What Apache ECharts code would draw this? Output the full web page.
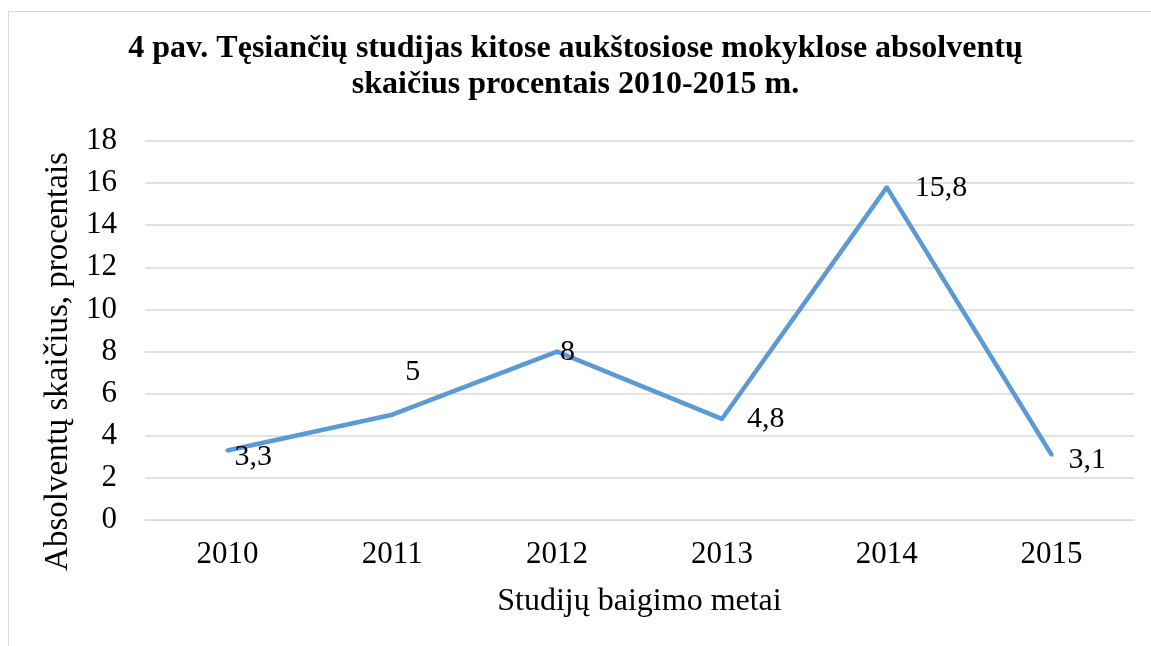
<!DOCTYPE html>
<html>
<head>
<meta charset="utf-8">
<script src="https://cdn.jsdelivr.net/npm/echarts@6/dist/echarts.min.js"></script>
<style>
  html, body { margin: 0; padding: 0; background: #fff; }
  #frame { position: absolute; left: 8px; top: 11px; width: 1160px; height: 660px; border: 1px solid #d9d9d9; box-sizing: border-box; }
  #myChart { position: absolute; left: 0; top: 0; width: 1151px; height: 646px; }
</style>
</head>
<body>
<div id="frame"></div>
<div id="myChart"></div>
<script>
var years = ['2010', '2011', '2012', '2013', '2014', '2015'];
var percents = [3.3, 5, 8, 4.8, 15.8, 3.1];
var yTicks = [0, 2, 4, 6, 8, 10, 12, 14, 16, 18];

window.onload = function () {
    var myChart = echarts.init(document.getElementById('myChart'));
    var font = '"Liberation Serif", "Times New Roman", serif';

    // label nudges so the numbers sit where the original put them
    var shift = [[0, 7], [6, -43], [-4, 1], [18, 0], [21, 1], [10, 5]];

    var option = {
        animation: false,
        title: {
            text: '4 pav. Tęsiančių studijas kitose aukštosiose mokyklose absolventų\nskaičius procentais 2010-2015 m.',
            left: 'center',
            top: 26,
            padding: [5, 0, 5, 14],
            textStyle: {
                fontFamily: font,
                fontWeight: 'bold',
                fontSize: 32,
                lineHeight: 36,
                color: '#000'
            }
        },
        grid: { left: 145, right: 17, top: 141, bottom: 126 },
        xAxis: {
            type: 'category',
            data: years,
            boundaryGap: true,
            name: 'Studijų baigimo metai',
            nameLocation: 'middle',
            nameGap: 66,
            nameTextStyle: { fontFamily: font, fontSize: 32, color: '#000' },
            axisLine: { show: true, lineStyle: { color: '#d9d9d9', width: 1 } },
            axisTick: { show: false },
            axisLabel: { fontFamily: font, fontSize: 31, color: '#000', margin: 19 }
        },
        yAxis: {
            type: 'value',
            min: yTicks[0],
            max: yTicks[yTicks.length - 1],
            interval: 2,
            name: 'Absolventų skaičius, procentais',
            nameLocation: 'middle',
            nameGap: 66,
            nameTextStyle: { fontFamily: font, fontSize: 33, color: '#000', padding: [0, 62, 0, 0] },
            axisLine: { show: false },
            axisTick: { show: false },
            axisLabel: { fontFamily: font, fontSize: 31, color: '#000', margin: 28 },
            splitLine: { lineStyle: { color: '#d9d9d9', width: 1.5 } }
        },
        series: [{
            type: 'line',
            data: percents.map(function (v, i) {
                return {
                    value: v,
                    label: { show: true, offset: shift[i] }
                };
            }),
            symbol: 'circle',
            symbolSize: 4,
            showSymbol: true,
            showAllSymbol: true,
            itemStyle: { color: '#5b9bd5' },
            lineStyle: { color: '#5b9bd5', width: 4.5 },
            label: {
                show: true,
                position: 'right',
                distance: 5,
                fontFamily: font,
                fontSize: 30,
                color: '#000',
                formatter: function (p) {
                    return String(p.value).replace('.', ',');
                }
            }
        }]
    };
    myChart.setOption(option);
};
</script>
</body>
</html>
